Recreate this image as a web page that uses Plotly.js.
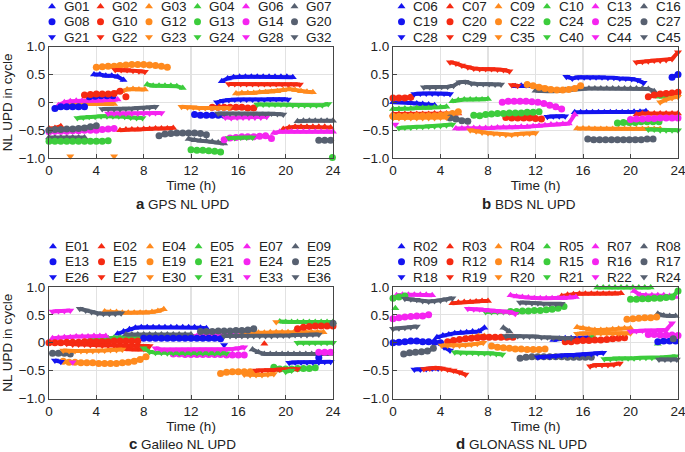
<!DOCTYPE html>
<html>
<head>
<meta charset="utf-8">
<script src="https://cdn.plot.ly/plotly-3.0.1.min.js"></script>
<style>html,body{margin:0;padding:0;background:#fff;}#chart{width:685px;height:452px;}</style>
</head>
<body>
<div id="chart"></div>
<script>
// ---- sampling interval of the read values (hours) ----
const SAMPLE_H = 0.5;

// ---- tick labels ----
const xTickVals = [0, 4, 8, 12, 16, 20, 24];
const xTickText = ['0', '4', '8', '12', '16', '20', '24'];
const yTickVals = [-1, -0.5, 0, 0.5, 1];
const yTickText = ['\u22121.0', '\u22120.5', '0', '0.5', '1.0'];

// ---- names (legend order: 3 rows x 6 columns) ----
const gpsNames = ['G01','G02','G03','G04','G06','G07','G08','G10','G12','G13','G14','G20','G21','G22','G23','G24','G28','G32'];
const bdsNames = ['C06','C07','C09','C10','C13','C16','C19','C20','C22','C24','C25','C27','C28','C29','C35','C40','C44','C45'];
const galNames = ['E01','E02','E04','E05','E07','E09','E13','E15','E19','E21','E24','E25','E26','E27','E30','E31','E33','E36'];
const gloNames = ['R02','R03','R04','R05','R07','R08','R09','R12','R14','R15','R16','R17','R18','R19','R20','R21','R22','R24'];
const panelCaptions = ['a', 'b', 'c', 'd'];
const panelSystems = ['GPS NL UPD', 'BDS NL UPD', 'Galileo NL UPD', 'GLONASS NL UPD'];

// ---- arcs: [start hour, value, value, ...] (values every SAMPLE_H hours) ----
// GPS
const G01 = [[3.8,.50,.50,.48,.48,.46,.40],[14.6,.38,.43,.45,.46,.46,.46,.46,.46,.46,.46,.46,.46,.45]];
const G02 = [[0,-.47,-.46,-.43],[6.0,-.50,-.49,-.49,-.49,-.48,-.48,-.47,-.47,-.47,-.46],[19.8,-.48,-.45,-.44,-.44,-.44,-.44,-.44,-.44,-.45]];
const G03 = [[1.0,-.05,-.04,-.04,-.03,-.03,-.03,-.03,-.03,-.03,-.03],[6.1,.20,.23,.24,.23,.23],[15.8,.16,.17,.17,.17,.18,.18,.19,.20,.22,.24,.22,.20,.19,.18]];
const G04 = [[8.3,.32,.30,.30,.30,.30,.29,.26]];
const G06 = [[0.8,-.05,.00,.02,.03,.03,.03,.03,.03,.04,.04,.05],[19.0,-.55,-.53,-.53,-.53,-.53,-.53,-.53,-.53,-.53,-.53,-.53]];
const G07 = [[0,-.63,-.63,-.63,-.63,-.63,-.63,-.63],[11.8,-.66,-.68,-.69,-.70,-.71,-.72,-.74],[21.0,-.34,-.33,-.33,-.33,-.33,-.33,-.33]];
const G08 = [[0.5,-.11,-.08,-.08,-.08,-.08,-.08],[3.4,.10,.11,.12,.12,.12],[12.3,-.22,-.23,-.23,-.23,-.23,-.23]];
const G10 = [[3.0,.13,.14,.15,.15,.15,.16,.20],[6.5,.10],[13.8,-.09,-.09,-.09,-.09,-.09,-.09,-.10,-.10]];
const G12 = [[4.0,.63,.64,.65,.65,.66,.67,.68,.68,.68,.67,.66,.65,.63]];
const G13 = [[0,-.70,-.70,-.70,-.70,-.70,-.70,-.70,-.70,-.70,-.70,-.69],[12.0,-.85,-.86,-.86,-.87,-.88,-.89],[23.95,-.99]];
const G14 = [[0,-.53,-.52,-.52,-.52,-.51,-.51,-.50,-.50,-.50,-.49,-.48,-.47],[14.8,-.67,-.64,-.63,-.62,-.62,-.62,-.61,-.60,-.65]];
const G20 = [[0,-.50,-.49,-.49,-.48,-.48,-.47,-.46,-.44,-.42],[9.3,-.60,-.57,-.56,-.55,-.55,-.55,-.55,-.56,-.58],[22.8,-.68,-.68,-.68]];
const G21 = [[14.2,.00,.03,.04,.05,.05,.05,.05,.05,.05,.06,.06,.06,.05]];
const G22 = [[5.6,.58,.58,.58,.57,.56,.55],[15.2,.33,.33,.33,.33,.33,.33,.33,.33,.33,.33,.33,.33,.32]];
const G23 = [[1.8,-.97],[5.5,-.97],[11.2,-.08,-.09,-.09,-.10,-.10,-.10,-.10,-.10,-.10]];
const G24 = [[2.4,-.28,-.27,-.26,-.26,-.25,-.25,-.25,-.25,-.26,-.27,-.28,-.28],[15.2,-.64,-.64,-.63,-.63,-.63],[17.6,-.04,-.04,-.04,-.04,-.04,-.04,-.05,-.05,-.05,-.05,-.05,-.05,-.03]];
const G28 = [[5.0,-.20,-.20,-.20,-.20,-.20,-.20,-.20,-.20,-.19,-.19],[14.9,-.27,-.28,-.27,-.27,-.27,-.27,-.27,-.26]];
const G32 = [[4.5,-.12,-.12,-.12,-.12,-.11,-.11,-.10,-.10,-.09,-.08],[14.3,-.20,-.20,-.20,-.20,-.20,-.20,-.20,-.20,-.20,-.20,-.21,-.22]];
// BDS
const C06 = [[0,.00,.00,.00,-.01,-.02,-.03,-.04,-.05],[10.3,.29,.30,.29],[15.3,-.18,-.18,-.18,-.18,-.18,-.18,-.18,-.18,-.18,-.18,-.17,-.17,-.16]];
const C07 = [[0,-.21,-.21,-.21,-.21,-.21,-.21,-.21,-.20,-.20,-.20,-.20,-.20],[9.8,-.25,-.25,-.25,-.25,-.25],[20.5,-.22,-.20,-.20,-.20,-.20,-.20,-.20,-.20]];
const C09 = [[15.5,-.47,-.47,-.47,-.48,-.48,-.48,-.48,-.48,-.48,-.48,-.48,-.48,-.48,-.48,-.48]];
const C10 = [[0,-.12,-.12,-.11,-.11,-.10,-.10,-.10,-.09,-.09,-.08],[5.0,.02,.04,.05,.05,.05,.05,.06],[22.4,.10,.11,.12,.13]];
const C13 = [[5.3,-.47,-.47,-.46,-.46,-.46,-.46,-.46,-.45,-.45,-.45,-.45,-.44,-.44,-.43,-.42,-.41,-.40,-.40,-.39,-.38,-.22]];
const C16 = [[12.0,.21,.20,.20,.20,.21,.22,.23,.24,.25,.25,.25,.25,.25,.25,.25,.25,.25,.25,.25,.24,.20]];
const C19 = [[23.5,.45,.50]];
const C20 = [[0,.08,.08,.08,.09],[9.5,-.27,-.28,-.28,-.28,-.28,-.29,-.30],[21.5,.10,.13,.15,.16,.17,.18]];
const C22 = [[0,-.25,-.25,-.25,-.25,-.24,-.24,-.24,-.24,-.23,-.22,-.20,-.17],[11.3,.32,.30,.27,.25,.23,.22,.22,.23,.25,.30]];
const C24 = [[6.8,-.23,-.24,-.22,-.21,-.20,-.20,-.19,-.19,-.19,-.18,-.18,-.17],[18.9,-.37,-.36,-.36,-.36,-.35,-.35,-.35,-.35]];
const C25 = [[9.2,.00,.02,.02,.02,.02,.01,.00,-.02,-.05,-.08,-.12],[20.0,-.31,-.30,-.30,-.29,-.29,-.28,-.28,-.28,-.28]];
const C27 = [[4.8,-.28,-.30,-.33,-.34],[16.4,-.66,-.67,-.67,-.67,-.67,-.67,-.67,-.67,-.67,-.67,-.66,-.66]];
const C28 = [[1.8,.15,.16,.16,.16,.16,.16,.15],[13.0,-.26,-.25,-.25,-.25],[14.6,.46,.43,.45,.45,.45,.45,.45,.44,.44,.43,.43,.42,.40,.35]];
const C29 = [[4.8,.72,.70,.66,.63,.61,.60,.60,.60,.59,.58,.56],[10.0,.31,.30],[20.5,.72,.73,.74,.75,.75,.76,.78,.90]];
const C35 = [[0,-.28,-.28,-.28,-.28,-.28,-.28,-.28,-.28,-.27,-.27],[6.5,-.50,-.52,-.54,-.55,-.56,-.57,-.58,-.58,-.57,-.56,-.56,-.55],[22.5,.00,.05,.08,.10]];
const C40 = [[0.5,-.46,-.45,-.45,-.44,-.44,-.43,-.43,-.42,-.41,-.40],[21.5,-.49,-.49,-.50,-.50,-.50,-.50]];
const C44 = [[0.2,-.40]];
const C45 = [[2.6,.27,.27,.27,.28,.28,.30,.36,.37,.34,.33,.33,.33,.32,.32]];
// Galileo
const E01 = [[5.8,.16,.20,.24,.27,.28,.28,.28,.28,.28,.28,.28,.28,.28,.28,.27,.26]];
const E02 = [[5.8,-.10,-.11,-.12,-.12,-.12,-.12],[18.2,-.02]];
const E04 = [[4.7,.56,.55,.55,.54,.54,.54,.54,.54,.55,.57,.60],[16.2,.16,.17,.18,.18,.18,.19,.19,.19,.19,.19,.19,.19,.19,.19,.19]];
const E05 = [[3.5,.07,.07,.08,.08,.09,.09,.10,.10,.10,.11,.11,.11,.12,.12,.12,.12],[19.5,.38,.37,.37,.37,.37,.37,.37,.37,.37,.37]];
const E07 = [[0.3,.08,.09,.10,.10,.11,.11,.11,.12,.12,.12],[12.0,.12,.12,.12,.13,.13,.13,.13,.14,.12]];
const E09 = [[6.5,.15,.15,.15,.15,.15,.15,.15,.15,.15,.15,.15,.15],[17.2,-.12,-.17,-.20,-.20,-.20,-.20,-.20,-.20,-.20,-.20,-.20,-.20,-.20,-.20]];
const E13 = [[8.0,.08,.08,.08,.08,.08,.08,.08,.08,.08,.08,.08,.08,.08,.07],[22.8,-.27]];
const E15 = [[0,.00,.00,.00,.01,.01,.01,.02,.02,.02,.02,.02,.03,.03,.03,.03,.03],[21.0,.25,.28,.29,.30,.30,.30,.30]];
const E19 = [[1.2,-.33,-.35,-.35,-.36,-.36,-.36,-.37,-.37,-.37,-.37,-.36,-.35,-.33,-.30,-.25],[14.5,-.55,-.53,-.52,-.52,-.52,-.52,-.53]];
const E21 = [[19.0,-.44,-.47,-.47,-.47,-.46,-.46,-.46,-.45]];
const E24 = [[10.5,-.20,-.20,-.21,-.21,-.21,-.21,-.21,-.21,-.21,-.22,-.22,-.22,-.22],[22.8,-.17,-.17,-.17]];
const E25 = [[0.3,-.19,-.19,-.19,-.20],[12.8,.20,.20,.20,.21,.21,.21,.22,.22,.23,.25],[24.0,.35]];
const E26 = [[0.5,-.32,-.34],[14.8,-.04],[20.3,-.36,-.35,-.35,-.35,-.35,-.35,-.34,-.34]];
const E27 = [[1.5,-.02,-.03,-.03,-.03,-.04,-.04,-.05,-.05,-.05,-.05,-.05,-.06,-.06,-.06,-.06],[17.5,-.50,-.50,-.49,-.49,-.48,-.48,-.48,-.47]];
const E30 = [[1.2,-.14,-.15,-.15,-.15,-.15,-.15,-.14,-.14,-.13,-.13,-.12],[16.5,-.57,-.58,-.58,-.58,-.57,-.56],[19.2,.37]];
const E31 = [[8.0,-.10,-.16,-.18,-.18,-.19,-.19,-.19,-.19,-.19,-.19,-.19,-.19,-.19,-.19,-.19],[20.0,-.52,-.50],[21.0,.00,.00,.00,.00,.00,.00,.00]];
const E33 = [[0.3,.56,.57,.57,.58],[2.0,-.35],[9.0,-.10,-.12,-.12,-.12,-.12,-.12,-.12,-.12,-.12,-.12,-.12,-.12,-.11,-.11,-.10,-.08]];
const E36 = [[2.6,.61,.58,.55,.53,.52,.52,.52,.53],[14.8,.12,.12,.12,.12,.12,.12,.12,.12,.12,.13,.13,.13,.14,.14,.14,.15,.15]];
// GLONASS
const R02 = [[3.7,.10,.13,.15,.17,.18,.19,.20,.20,.27],[13.5,.05,.07,.08,.08,.09,.09,.10]];
const R03 = [[5.0,.71,.72,.73,.73,.74,.75,.75],[14.2,.84,.86,.87,.88,.88,.88,.88,.88,.88,.88,.89]];
const R04 = [[6.2,.08,.10,.12,.12,.10],[15.5,.28,.26,.24,.23,.23,.23,.24,.25,.26,.26]];
const R05 = [[0.2,.62],[16.8,.12],[17.2,.99,.99,.99,.99,.99,.99,.99,.99,.99,.99],[22.3,-.02]];
const R07 = [[0.3,.85,.86,.86,.86,.86,.86,.85],[9.9,.85,.83,.82,.81,.80,.80,.80,.80,.80,.80,.81,.82],[20.3,.93,.86,.85,.85,.85,.85,.84,.82]];
const R08 = [[9.3,.27,.20],[22.3,.52,.49,.48,.48]];
const R09 = [[0,.00,.01,.02,.03,.03,.02,.02,.01,.00],[22.3,.02,.03,.03,.03]];
const R12 = [[4.6,.02,.04,.06,.07,.08,.09,.10,.10,.10,.10,.10,.10],[14.5,.02,.02,.03,.04,.04,.05,.05,.06,.07,.08,.09]];
const R14 = [[8.3,-.06,-.08,-.09,-.10,-.11,-.11,-.12,-.12,-.12,-.11],[19.7,.42,.43,.44,.45,.45,.46]];
const R15 = [[0,.80,.82,.84],[9.9,.56,.56,.57,.57,.58,.58,.59,.60,.62,.65],[20.0,.78,.78,.79,.79,.80,.80,.81,.82,.93]];
const R16 = [[0,.43,.45,.46,.47,.48,.48,.50],[21.5,.15,.15,.14,.14,.14,.13]];
const R17 = [[0.9,-.20,-.18,-.17,-.16,-.15,-.10],[10.7,-.28,-.26,-.25,-.25,-.25,-.25,-.25,-.25,-.26,-.26,-.26,-.26,-.26],[23.6,.07]];
const R18 = [[1.8,-.48,-.48,-.47,-.46,-.46],[4.3,-.08,-.14],[12.2,-.26,-.25,-.25,-.24,-.23,-.22,-.22,-.21,-.20,-.20,-.19,-.18]];
const R19 = [[2.6,-.47,-.46,-.45,-.46,-.48,-.50,-.53,-.57],[16.6,-.42,-.40,-.40,-.40,-.39,-.37]];
const R20 = [[4.1,-.05,-.05,-.05,-.05,-.04,-.03,-.02,.00],[15.5,.16,.17,.17,.17,.17,.17,.17,.17,.17,.17]];
const R21 = [[5.2,-.17,-.18,-.18,-.18,-.19,-.19,-.19,-.20,-.21],[7.8,.55,.55,.55,.55,.55,.56],[17.8,-.29,-.29,-.28,-.28,-.28,-.28,-.27,-.27,-.27,-.27,-.26,-.25,-.24]];
const R22 = [[6.3,.61,.60,.60,.59,.58,.57,.56,.55,.52],[20.0,.20,.21,.22,.22,.22,.23,.23,.35]];
const R24 = [[0,.25,.26,.27,.28,.29],[1.0,.79,.78,.77,.75,.74,.75,.76,.78,.80],[9.5,.12,.12,.12,.11,.11,.11,.10,.10,.09,.09,.08,.08],[10.7,.72,.72,.71,.71,.70,.70,.70,.70],[22.4,-.30,-.30,-.30,-.30]];

const gpsSeries = [G01,G02,G03,G04,G06,G07,G08,G10,G12,G13,G14,G20,G21,G22,G23,G24,G28,G32];
const bdsSeries = [C06,C07,C09,C10,C13,C16,C19,C20,C22,C24,C25,C27,C28,C29,C35,C40,C44,C45];
const galSeries = [E01,E02,E04,E05,E07,E09,E13,E15,E19,E21,E24,E25,E26,E27,E30,E31,E33,E36];
const gloSeries = [R02,R03,R04,R05,R07,R08,R09,R12,R14,R15,R16,R17,R18,R19,R20,R21,R22,R24];

// ---- styles ----
const W = 685, H = 452;
const COLORS = ['#1414f0', '#f52a12', '#ff8a1e', '#3ccc3c', '#f524f0', '#576070'];
const SYMBOLS = ['triangle-up', 'circle', 'triangle-down'];
const FONT = '"Liberation Sans", Arial, Helvetica, sans-serif';
const FS = 13.5;

// plot frames in pixels
const boxes = [
  {x0: 49, x1: 333, y0: 46.7, y1: 158},
  {x0: 393, x1: 678, y0: 46.7, y1: 158},
  {x0: 49, x1: 333, y0: 287, y1: 398.5},
  {x0: 393, x1: 678, y0: 287, y1: 398.5}
];
const legendOrigin = [
  {x: 52, y: 6.5}, {x: 401.5, y: 6.5}, {x: 53, y: 246.5}, {x: 401.5, y: 246.5}
];
const captionPos = [{x: 183, y: 203}, {x: 529, y: 203}, {x: 183, y: 443}, {x: 521, y: 443}];
const COL_STEP = 48.5, ROW_STEP = 15.3, TEXT_GAP = 9.5;

function expand(arcs) {
  const x = [], y = [];
  arcs.forEach((a, k) => {
    if (k) { x.push(null); y.push(null); }
    for (let i = 1; i < a.length; i++) { x.push(a[0] + (i - 1) * SAMPLE_H); y.push(a[i]); }
  });
  return {x, y};
}

const panels = [
  {names: gpsNames, series: gpsSeries},
  {names: bdsNames, series: bdsSeries},
  {names: galNames, series: galSeries},
  {names: gloNames, series: gloSeries}
];

const data = [];
const annotations = [];
const layout = {
  width: W, height: H,
  margin: {l: 0, r: 0, t: 0, b: 0},
  paper_bgcolor: '#ffffff',
  plot_bgcolor: 'rgba(0,0,0,0)',
  showlegend: false,
  font: {family: FONT, size: FS, color: '#222'},
  annotations: annotations
};

panels.forEach((p, pi) => {
  const n = pi + 1;
  const xa = 'x' + (n === 1 ? '' : n), ya = 'y' + (n === 1 ? '' : n);
  const b = boxes[pi];
  layout['xaxis' + (n === 1 ? '' : n)] = {
    domain: [b.x0 / W, b.x1 / W], anchor: ya, range: [0, 24],
    tickmode: 'array', tickvals: xTickVals, ticktext: xTickText,
    showline: true, mirror: true, linecolor: '#454545', linewidth: 1,
    ticks: 'inside', ticklen: 4, tickcolor: '#454545',
    showgrid: true, gridcolor: '#e2e2e2', gridwidth: 1.2, zeroline: false,
    ticklabeloverflow: 'allow',
    tickfont: {size: FS, color: '#222', family: FONT},
    title: {text: 'Time (h)', font: {size: FS, color: '#222', family: FONT}, standoff: 2},
    fixedrange: true
  };
  const yax = {
    domain: [1 - b.y1 / H, 1 - b.y0 / H], anchor: xa, range: [-1, 1],
    tickmode: 'array', tickvals: yTickVals, ticktext: yTickText,
    showline: true, mirror: true, linecolor: '#454545', linewidth: 1,
    ticks: 'inside', ticklen: 4, tickcolor: '#454545',
    showgrid: true, gridcolor: '#e2e2e2', gridwidth: 1.2, zeroline: false,
    ticklabeloverflow: 'allow',
    tickfont: {size: FS, color: '#222', family: FONT},
    fixedrange: true
  };
  if (pi % 2 === 0) yax.title = {text: 'NL UPD in cycle', font: {size: FS, color: '#222', family: FONT}, standoff: 4};
  layout['yaxis' + (n === 1 ? '' : n)] = yax;

  p.series.forEach((arcs, si) => {
    const xy = expand(arcs);
    const c = COLORS[si % 6], s = SYMBOLS[Math.floor(si / 6)];
    data.push({
      type: 'scatter', mode: 'lines+markers', name: p.names[si],
      x: xy.x, y: xy.y, xaxis: xa, yaxis: ya, connectgaps: false, cliponaxis: false,
      line: {color: c, width: 4},
      marker: {symbol: s, size: 7, color: c, line: {width: 0}},
      hoverinfo: 'name+x+y'
    });
  });

  // legend block (markers on an overlay pixel axis, labels as text)
  const lo = legendOrigin[pi];
  const lx = [], ly = [], lc = [], ls = [];
  p.names.forEach((nm, si) => {
    const col = si % 6, row = Math.floor(si / 6);
    const mx = lo.x + col * COL_STEP, my = lo.y + row * ROW_STEP;
    lx.push(mx); ly.push(my); lc.push(COLORS[col]); ls.push(SYMBOLS[row]);
    annotations.push({xref: 'x5', yref: 'y5', x: mx + TEXT_GAP, y: my, text: nm, showarrow: false,
      xanchor: 'left', yanchor: 'middle', font: {size: FS, color: '#222', family: FONT}});
  });
  data.push({type: 'scatter', mode: 'markers', x: lx, y: ly, xaxis: 'x5', yaxis: 'y5', cliponaxis: false,
    marker: {symbol: ls, color: lc, size: 7, line: {width: 0}}, hoverinfo: 'skip', showlegend: false});

  const cp = captionPos[pi];
  annotations.push({xref: 'paper', yref: 'paper', x: cp.x / W, y: 1 - cp.y / H, showarrow: false,
    xanchor: 'center', yanchor: 'middle',
    text: '<b><span style="font-size:15px">' + panelCaptions[pi] + '</span></b> ' + panelSystems[pi],
    font: {size: FS, color: '#222', family: FONT}});
});

layout.xaxis5 = {domain: [0, 1], range: [0, W], visible: false, fixedrange: true, anchor: 'y5'};
layout.yaxis5 = {domain: [0, 1], range: [H, 0], visible: false, fixedrange: true, anchor: 'x5'};

Plotly.newPlot('chart', data, layout, {staticPlot: true, displayModeBar: false});
</script>
</body>
</html>
